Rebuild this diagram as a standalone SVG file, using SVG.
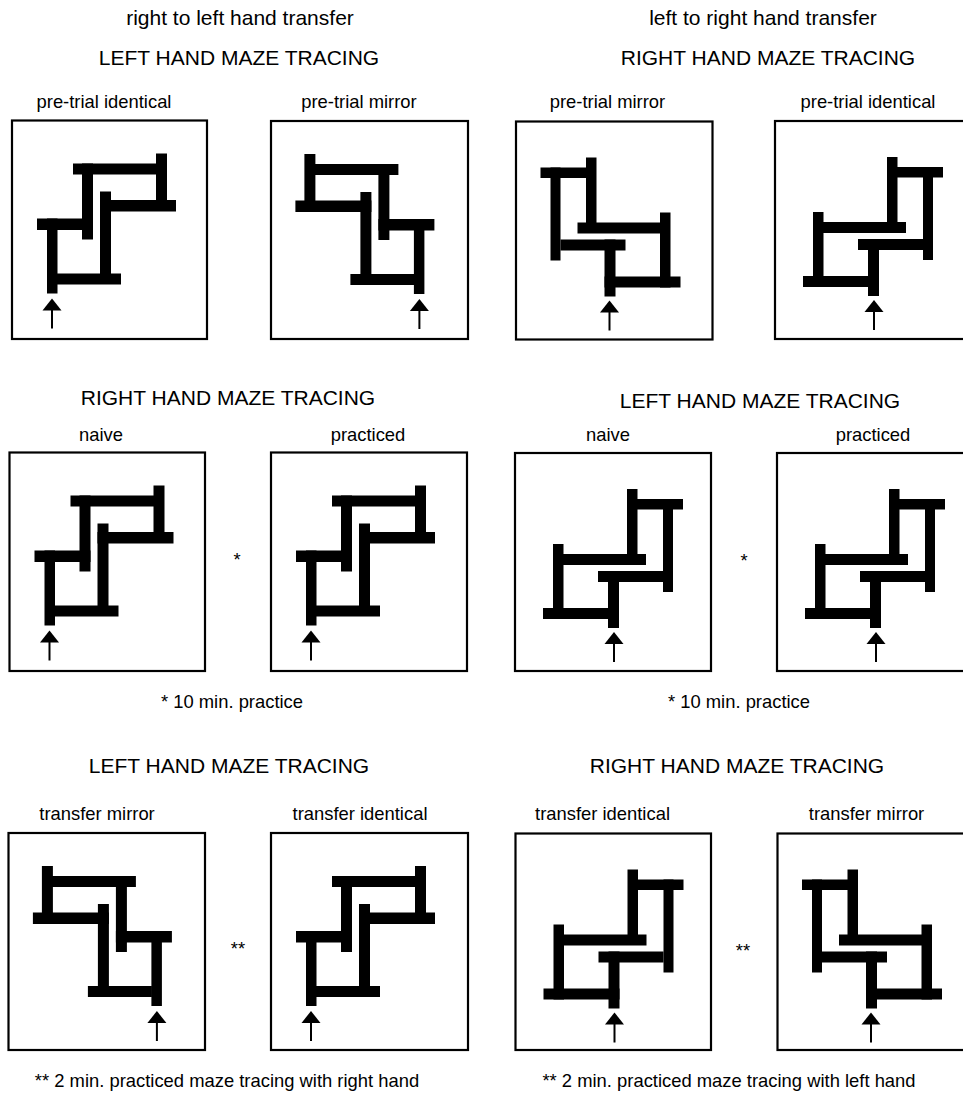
<svg xmlns="http://www.w3.org/2000/svg" xmlns:xlink="http://www.w3.org/1999/xlink" width="963" height="1096" viewBox="0 0 963 1096">
<style>
text { font-family: "Liberation Sans", Arial, Helvetica, sans-serif; fill: #000; text-anchor: middle; }
.h { font-size: 21px; }
.l { font-size: 18.4px; }
.box { fill: #fff; stroke: #000; stroke-width: 2.2; }
.bar { fill: #000; }
.shaft { stroke: #000; stroke-width: 2; fill: none; }
</style>
<defs>
  <g id="mazeA">
    <rect class="bar" x="61" y="43" width="84" height="11"/>
    <rect class="bar" x="144" y="33" width="11" height="47"/>
    <rect class="bar" x="88" y="79.5" width="76" height="11.5"/>
    <rect class="bar" x="70" y="43" width="11" height="76"/>
    <rect class="bar" x="88" y="71" width="11" height="92"/>
    <rect class="bar" x="25" y="98" width="56" height="11.5"/>
    <rect class="bar" x="35" y="98" width="10.5" height="75"/>
    <rect class="bar" x="45" y="153" width="64" height="11"/>
    <path class="shaft" d="M40 189 V208"/>
    <polygon class="bar" points="40,178 30.5,190 49.5,190"/>
  </g>
  <g id="mazeB">
    <rect class="bar" x="112" y="36" width="10.5" height="75"/>
    <rect class="bar" x="122" y="46" width="46" height="10.5"/>
    <rect class="bar" x="148" y="46" width="10" height="93"/>
    <rect class="bar" x="48" y="101" width="83" height="11"/>
    <rect class="bar" x="38" y="91" width="10.5" height="75"/>
    <rect class="bar" x="83" y="118" width="65" height="11"/>
    <rect class="bar" x="93" y="118" width="11" height="57"/>
    <rect class="bar" x="28" y="155" width="76" height="11"/>
    <path class="shaft" d="M99 190 V209"/>
    <polygon class="bar" points="99,179 89.5,191 108.5,191"/>
  </g>
</defs>
<rect x="0" y="0" width="963" height="1096" fill="#fff"/>

<g id="headings">
  <text class="h" x="240" y="25">right to left hand transfer</text>
  <text class="h" x="763" y="25">left to right hand transfer</text>
  <text class="h" x="239" y="65">LEFT HAND MAZE TRACING</text>
  <text class="h" x="768" y="65">RIGHT HAND MAZE TRACING</text>
  <text class="h" x="228" y="405">RIGHT HAND MAZE TRACING</text>
  <text class="h" x="760" y="408">LEFT HAND MAZE TRACING</text>
  <text class="l" x="232" y="708">* 10 min. practice</text>
  <text class="l" x="739" y="708">* 10 min. practice</text>
  <text class="h" x="229" y="773">LEFT HAND MAZE TRACING</text>
  <text class="h" x="737" y="773">RIGHT HAND MAZE TRACING</text>
  <text class="l" x="227" y="1087">** 2 min. practiced maze tracing with right hand</text>
  <text class="l" x="729" y="1087">** 2 min. practiced maze tracing with left hand</text>
  <text class="l" x="237" y="566">*</text>
  <text class="l" x="744" y="567">*</text>
  <text class="l" x="238" y="955">**</text>
  <text class="l" x="743" y="957">**</text>
</g>

<!-- Row 1 -->
<g id="p1">
  <text class="l" x="104" y="108">pre-trial identical</text>
  <g transform="translate(12,120.5)"><rect class="box" width="195" height="218.5"/><use xlink:href="#mazeA"/></g>
</g>
<g id="p2">
  <text class="l" x="359" y="108">pre-trial mirror</text>
  <g transform="translate(271,121)"><rect class="box" width="197" height="218"/><use xlink:href="#mazeA" transform="translate(188.4,0) scale(-1,1)"/></g>
</g>
<g id="p3">
  <text class="l" x="607.5" y="108">pre-trial mirror</text>
  <g transform="translate(516,121.5)"><rect class="box" width="196.5" height="218"/><use xlink:href="#mazeB" transform="translate(192.5,0) scale(-1,1)"/></g>
</g>
<g id="p4">
  <text class="l" x="868" y="108">pre-trial identical</text>
  <g transform="translate(775,121)"><rect class="box" width="196" height="218"/><use xlink:href="#mazeB"/></g>
</g>

<!-- Row 2 -->
<g id="p5">
  <text class="l" x="101" y="441">naive</text>
  <g transform="translate(9.5,452.5)"><rect class="box" width="195.5" height="218.5"/><use xlink:href="#mazeA"/></g>
</g>
<g id="p6">
  <text class="l" x="368" y="441">practiced</text>
  <g transform="translate(271,452.5)"><rect class="box" width="196" height="218.5"/><use xlink:href="#mazeA"/></g>
</g>
<g id="p7">
  <text class="l" x="608" y="441">naive</text>
  <g transform="translate(515,453)"><rect class="box" width="196" height="218"/><use xlink:href="#mazeB"/></g>
</g>
<g id="p8">
  <text class="l" x="873" y="441">practiced</text>
  <g transform="translate(777,453)"><rect class="box" width="196" height="218"/><use xlink:href="#mazeB"/></g>
</g>

<!-- Row 3 -->
<g id="p9">
  <text class="l" x="97" y="820">transfer mirror</text>
  <g transform="translate(8.5,833)"><rect class="box" width="196.5" height="217"/><use xlink:href="#mazeA" transform="translate(188.4,0) scale(-1,1)"/></g>
</g>
<g id="p10">
  <text class="l" x="360" y="820">transfer identical</text>
  <g transform="translate(271,833)"><rect class="box" width="197" height="217"/><use xlink:href="#mazeA"/></g>
</g>
<g id="p11">
  <text class="l" x="602.5" y="820">transfer identical</text>
  <g transform="translate(515.5,833.5)"><rect class="box" width="195.5" height="216.5"/><use xlink:href="#mazeB"/></g>
</g>
<g id="p12">
  <text class="l" x="866.5" y="820">transfer mirror</text>
  <g transform="translate(777.5,833.5)"><rect class="box" width="196" height="216.5"/><use xlink:href="#mazeB" transform="translate(192.5,0) scale(-1,1)"/></g>
</g>

<g id="connectors"></g>
</svg>
